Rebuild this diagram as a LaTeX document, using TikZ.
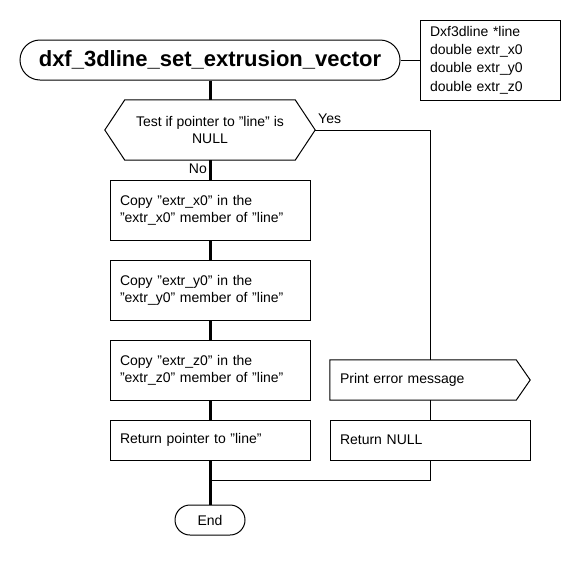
\documentclass[tikz,border=0pt]{standalone}
\usepackage{fontspec}
\setmainfont{Liberation Sans}
\usetikzlibrary{calc}
\begin{document}
\begin{tikzpicture}[x=1pt,y=-1pt,
  every node/.style={font=\fontsize{14}{17}\selectfont, inner sep=0pt},
  thin line/.style={line width=1pt},
  thick line/.style={line width=3pt},
  stepbox/.style={draw, line width=1pt, minimum width=200pt, minimum height=60pt,
     text width=180pt, inner xsep=10pt, align=left},
  lowbox/.style={stepbox, minimum height=40pt},
  term/.style={draw, line width=1pt, rounded corners=15pt, minimum height=30pt}
]
\useasboundingbox (0,0) rectangle (580,560);
% title
\node[draw, line width=1pt, rounded corners=20pt, minimum width=380pt, minimum height=40pt,
      font=\fontsize{22}{26}\bfseries\selectfont] (title) at (210,60) {dxf\_3dline\_set\_extrusion\_vector};
\node[draw, line width=1pt, minimum width=140pt, minimum height=80pt, text width=120pt,
      inner xsep=10pt, align=left, font=\fontsize{14}{18.3}\selectfont] (params) at (490,60)
  {Dxf3dline *line\\double extr\_x0\\double extr\_y0\\double extr\_z0};
% decision
\node[minimum width=210pt, minimum height=60pt, align=center] (test) at (210,130)
  {Test if pointer to "line" is\\NULL};
\draw[thin line] (test.west) -- ($(test.north west)+(20,0)$) -- ($(test.north east)+(-20,0)$)
  -- (test.east) -- ($(test.south east)+(-20,0)$) -- ($(test.south west)+(20,0)$) -- cycle;
% steps
\node[stepbox] (b1) at (210,210) {Copy "extr\_x0" in the\\"extr\_x0" member of "line"};
\node[stepbox] (b2) at (210,290) {Copy "extr\_y0" in the\\"extr\_y0" member of "line"};
\node[stepbox] (b3) at (210,370) {Copy "extr\_z0" in the\\"extr\_z0" member of "line"};
\node[lowbox] (b4) at (210,440) {Return pointer to "line"};
% error branch
\node[minimum width=200pt, minimum height=40pt, text width=180pt, inner xsep=10pt, align=left]
  (err) at (430,380) {Print error message};
\draw[thin line] (err.north west) -- ($(err.north east)+(-14,0)$) -- (err.east)
  -- ($(err.south east)+(-14,0)$) -- (err.south west) -- cycle;
\node[lowbox] (rnull) at (430,440) {Return NULL};
% end
\node[term, minimum width=70pt] (end) at (210,520) {End};
\coordinate (join) at (210,480);
% connectors
\draw[thin line] (title.east) -- (params.west);
\draw[thick line] (title.south) -- (test.north);
\draw[thick line] (test.south) -- (b1.north);
\draw[thick line] (b1.south) -- (b2.north);
\draw[thick line] (b2.south) -- (b3.north);
\draw[thick line] (b3.south) -- (b4.north);
\draw[thick line] (b4.south) -- (end.north);
\draw[thin line] (test.east) -| (err.north);
\draw[thin line] (err.south) -- (rnull.north);
\draw[thin line] (rnull.south) |- (join);
% labels
\node[anchor=west] (yes) at (318,119) {Yes};
\node[anchor=east] (no) at (207,169) {No};
\end{tikzpicture}
\end{document}
